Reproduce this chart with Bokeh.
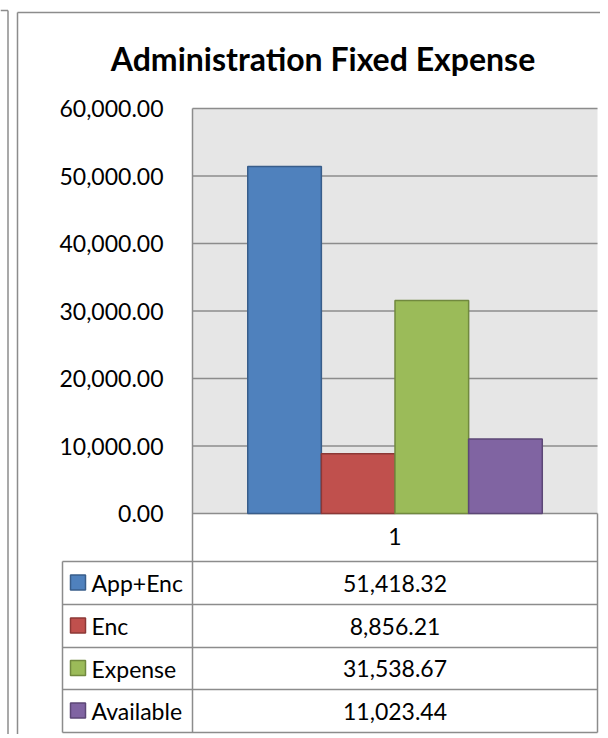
from bokeh.plotting import figure
from bokeh.models import Range1d, NumeralTickFormatter, FixedTicker, ColumnDataSource
from bokeh.core.properties import value
from bokeh.embed import file_html
from bokeh.resources import INLINE

# ---- data ----
categories = ["1"]
series = ["App+Enc", "Enc", "Expense", "Available"]
values = [51418.32, 8856.21, 31538.67, 11023.44]
fill_colors = ["#4F81BD", "#C0504D", "#9BBB59", "#8064A2"]
edge_colors = ["#385D8A", "#8C3836", "#71893F", "#5C4776"]
y_ticks = [0, 10000, 20000, 30000, 40000, 50000, 60000]
title_text = "Administration Fixed Expense"

FONT = "Lato"
GRID = "#8C8C8C"
FS = "23px"

W, H = 600, 734
NC = len(categories)
YMAX = y_ticks[-1]
# plot area in picture pixels
PL, PR, PT, PB = 192, 597, 108, 513


def DX(px):
    return (px - PL) / (PR - PL) * NC


def DY(py):
    return (PB - py) / (PB - PT) * YMAX


p = figure(width=W, height=H,
           x_range=Range1d(DX(0), DX(W)),
           y_range=Range1d(DY(H), DY(0)),
           output_backend="svg", toolbar_location=None,
           min_border=0, min_border_left=0, min_border_right=0,
           min_border_top=0, min_border_bottom=0)
p.title.visible = False
p.background_fill_color = "white"
p.border_fill_color = "white"
p.outline_line_color = None
p.xgrid.visible = False
p.ygrid.visible = False

# y axis, anchored at the plot area's left edge
ya = p.yaxis[0]
ya.fixed_location = 0
ya.ticker = FixedTicker(ticks=y_ticks)
ya.formatter = NumeralTickFormatter(format="0,0.00")
ya.axis_line_color = None
ya.major_tick_line_color = None
ya.minor_tick_line_color = None
ya.major_tick_out = 0
ya.major_tick_in = 0
ya.major_label_standoff = 29
ya.major_label_text_font = FONT
ya.major_label_text_font_size = FS
ya.major_label_text_color = "black"

# x axis -> category label in table header
cat_pos = [i + 0.5 for i in range(NC)]
xa = p.xaxis[0]
xa.fixed_location = 0
xa.ticker = FixedTicker(ticks=cat_pos)
xa.major_label_overrides = {c: lab for c, lab in zip(cat_pos, categories)}
xa.axis_line_color = None
xa.major_tick_line_color = None
xa.minor_tick_line_color = None
xa.major_tick_out = 0
xa.major_tick_in = 0
xa.major_label_standoff = 14
xa.major_label_text_font = FONT
xa.major_label_text_font_size = FS
xa.major_label_text_color = "black"

# plot-area background
p.quad(left=[0], right=[NC], bottom=[0], top=[YMAX], fill_color="#E6E6E6", line_color=None)

# gridlines
p.segment(x0=[0] * len(y_ticks), x1=[NC] * len(y_ticks), y0=y_ticks, y1=y_ticks,
          line_color=GRID, line_width=1.5)

# bars
n = len(series)
bw = 1.0 / (n + 1.5)
bar_src = ColumnDataSource(dict(
    x=[cat_pos[0] + (i - (n - 1) / 2) * bw for i in range(n)],
    value=values, fc=fill_colors, ec=edge_colors))
p.vbar(x="x", top="value", width=bw, source=bar_src,
       fill_color="fc", line_color="ec", line_width=1.5)

# borders & table lines (picture pixel coordinates)
col_l, col_m, col_r = 62, PL, PR
rows = [561, 604, 647, 689, 732]
segs = [
    (0, 10, 7.5, 10), (7.5, 10, 7.5, 745),                        # neighbouring frame
    (17, 12, 17, 745), (17, 12, 612, 12),                         # chart frame
    (PL, PT, PL, rows[-1]),                                       # plot/table left edge
    (col_r, PB, col_r, rows[-1]),                                 # table right edge
    (col_l, rows[0], col_l, rows[-1]),                            # legend column left
]
segs += [(col_l, yy, col_r, yy) for yy in rows]
p.segment(x0=[DX(s[0]) for s in segs], y0=[DY(s[1]) for s in segs],
          x1=[DX(s[2]) for s in segs], y1=[DY(s[3]) for s in segs],
          line_color=GRID, line_width=1.5)

# table rows: legend keys, names, values
cys = [(rows[i] + rows[i + 1]) / 2 for i in range(n)]
p.quad(left=[DX(70)] * n, right=[DX(85)] * n,
       top=[DY(c - 8) for c in cys], bottom=[DY(c + 7) for c in cys],
       fill_color=fill_colors, line_color=edge_colors, line_width=1.5)
p.text(x=[DX(91)] * n, y=[DY(c) for c in cys], text=series,
       text_font=value(FONT), text_font_size=FS, text_baseline="middle",
       text_align="left", text_color="black")
p.text(x=[cat_pos[0]] * n, y=[DY(c) for c in cys], text=[f"{v:,.2f}" for v in values],
       text_font=value(FONT), text_font_size=FS, text_baseline="middle",
       text_align="center", text_color="black")

# title
p.text(x=[DX(322.5)], y=[DY(58)], text=[title_text],
       text_font=value(FONT), text_font_size="32px", text_font_style="bold",
       text_baseline="middle", text_align="center", text_color="black")

open("out.html", "w").write(file_html(p, INLINE))
